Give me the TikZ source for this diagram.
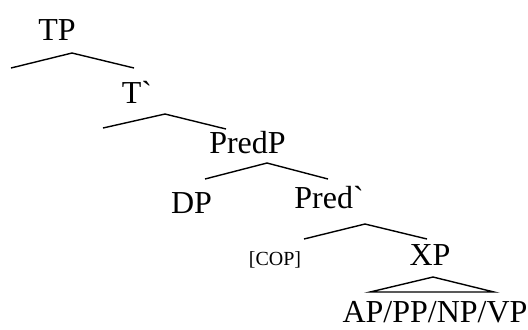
\documentclass[tikz,border=0pt]{standalone}
\usepackage{fontspec}
\setmainfont{Liberation Serif}
\usepackage{tikz}

\begin{document}
\begin{tikzpicture}[
        x=0.5pt, y=-0.5pt,
        every node/.style={font=\fontsize{16}{19}\selectfont, anchor=base, inner sep=0pt},
        small/.style={font=\fontsize{10}{12}\selectfont},
        branch/.style={line width=0.7pt},
    ]
    \useasboundingbox (0,0) rectangle (528,329);

    % labels
    \node (tp) at (57,40) {TP};
    \node (tbar) at (137,103) {T\textasciigrave};
    \node (predp) at (247.5,153) {PredP};
    \node (dp) at (191.5,213) {DP};
    \node (predbar) at (329,208) {Pred\textasciigrave};
    \node[small] (cop) at (275,265) {[COP]};
    \node (xp) at (430,265) {XP};
    \node (apvp) at (435,322) {AP/PP/NP/VP};

    % branch points
    \coordinate (tp-a) at (72,53);
    \coordinate (tp-l) at (11,68);
    \coordinate (tp-r) at (134,68);
    \coordinate (tbar-a) at (165,114);
    \coordinate (tbar-l) at (103,128);
    \coordinate (tbar-r) at (226,129);
    \coordinate (predp-a) at (267,163);
    \coordinate (predp-l) at (205,179);
    \coordinate (predp-r) at (328,179);
    \coordinate (predbar-a) at (365,224);
    \coordinate (predbar-l) at (304,239);
    \coordinate (predbar-r) at (427,239);
    \coordinate (xp-a) at (433,277);
    \coordinate (xp-l) at (370,292);
    \coordinate (xp-r) at (494,292);

    \draw[branch] (tp-l) -- (tp-a) -- (tp-r);
    \draw[branch] (tbar-l) -- (tbar-a) -- (tbar-r);
    \draw[branch] (predp-l) -- (predp-a) -- (predp-r);
    \draw[branch] (predbar-l) -- (predbar-a) -- (predbar-r);
    \draw[branch] (xp-l) -- (xp-a) -- (xp-r) -- cycle;
\end{tikzpicture}
\end{document}
